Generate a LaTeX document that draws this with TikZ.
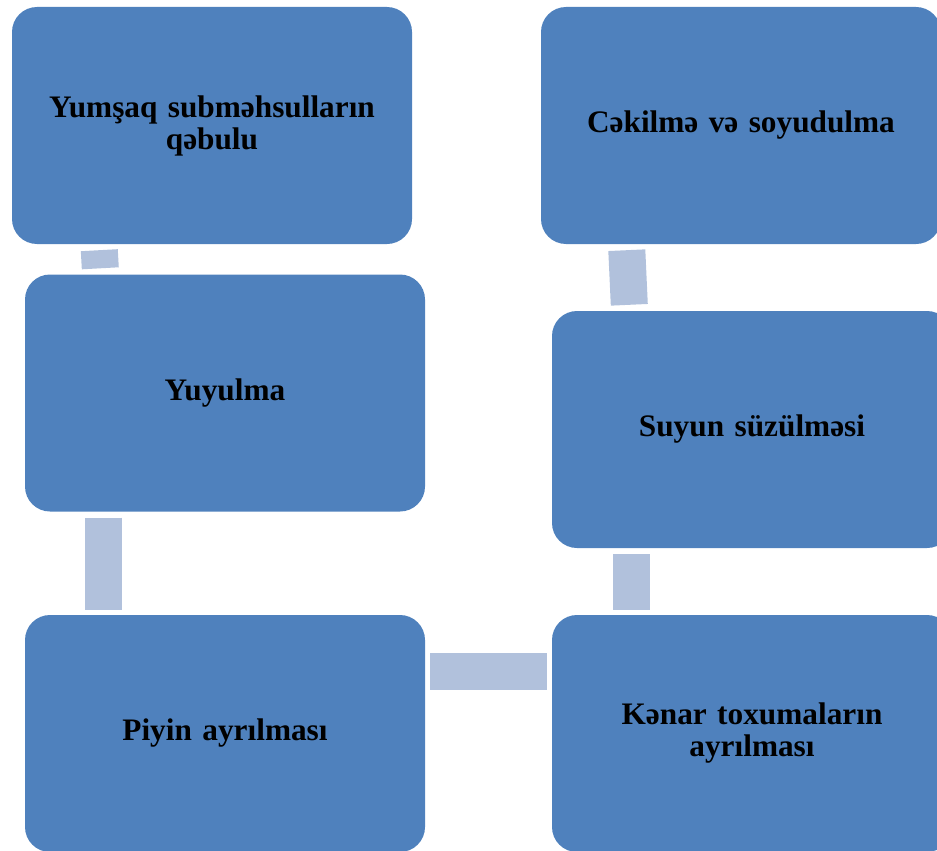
\documentclass[tikz,border=0pt]{standalone}
\usepackage{fontspec}
\setmainfont{Liberation Serif}
\usetikzlibrary{calc}
\definecolor{boxblue}{HTML}{4F81BD}
\definecolor{connblue}{HTML}{B1C1DC}
\tikzset{
  stepbox/.style={rectangle, rounded corners=25pt, fill=boxblue, draw=none,
    minimum width=400pt, minimum height=237pt, inner sep=0pt,
    text width=380pt, align=center, font=\fontsize{31.3}{32}\selectfont\bfseries},
  conn/.style={draw=connblue, line width=37pt, line cap=butt}
}
\begin{document}
\begin{tikzpicture}[x=1pt,y=-1pt]
\useasboundingbox (0,0) rectangle (937,851);
\clip (0,0) rectangle (937,851);
\node[stepbox] (n1) at (212,125.5) {\raisebox{-3pt}{\parbox{380pt}{\centering Yumşaq subməhsulların\\qəbulu}}};
\node[stepbox] (n2) at (225,393) {\raisebox{-2pt}{Yuyulma}};
\node[stepbox] (n3) at (225,733.5) {\raisebox{-2pt}{Piyin ayrılması}};
\node[stepbox] (n4) at (752,733.5) {\raisebox{-2pt}{\parbox{380pt}{\centering Kənar toxumaların\\ayrılması}}};
\node[stepbox] (n5) at (752,429.5) {\raisebox{-2pt}{Suyun süzülməsi}};
\node[stepbox] (n6) at (741,125.5) {\raisebox{-2pt}{Cəkilmə və soyudulma}};
\draw[conn] ($(n1.south west)+(87.5,6)$) -- ($(n2.north west)+(75.5,-6)$);
\draw[conn] ($(n2.south west)+(79,6)$) -- ($(n3.north west)+(79,-5)$);
\draw[conn] ($(n3.north east)+(5,57)$) -- ($(n4.north west)+(-5,57)$);
\draw[conn] ($(n5.south west)+(79.3,6)$) -- ($(n4.north west)+(79.3,-5)$);
\draw[conn] ($(n6.south west)+(86,6)$) -- ($(n5.north west)+(77.5,-6)$);
\end{tikzpicture}
\end{document}
